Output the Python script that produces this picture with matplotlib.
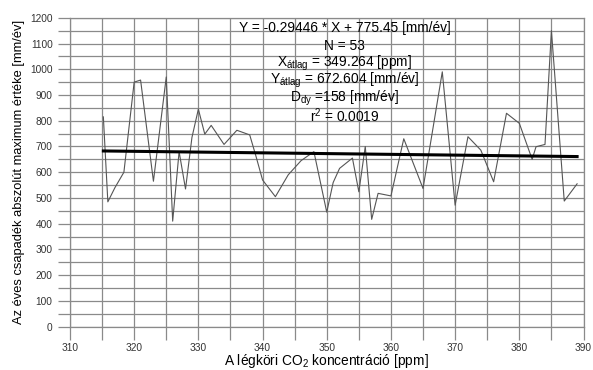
import numpy as np
import matplotlib.pyplot as plt

plt.rcParams['font.family'] = ['Liberation Sans', 'DejaVu Sans']
plt.rcParams['mathtext.fontset'] = 'custom'
plt.rcParams['mathtext.rm'] = 'Liberation Sans'
plt.rcParams['mathtext.it'] = 'Liberation Sans'

# CO2 concentration [ppm] and annual maximum precipitation [mm/ev]
co2 = [315.2, 315.9, 317.0, 318.4, 320.0, 321.0, 323.0, 325.0, 326.0, 327.0,
       328.0, 329.0, 330.0, 331.0, 332.0, 334.0, 336.0, 338.0, 339.0, 340.0,
       342.0, 344.0, 346.0, 348.0, 350.0, 351.0, 352.0, 354.0, 355.0, 356.0,
       357.0, 358.0, 360.0, 362.0, 365.0, 368.0, 370.0, 372.0, 374.0, 376.0,
       378.0, 380.0, 382.0, 382.6, 384.0, 385.0, 387.0, 389.0]
prec = [815, 485, 540, 600, 950, 958, 565, 970, 410, 680,
        535, 735, 845, 748, 782, 708, 763, 745, 660, 570,
        505, 590, 645, 680, 445, 560, 615, 655, 524, 700,
        417, 518, 508, 730, 537, 990, 472, 738, 686, 563,
        829, 790, 650, 699, 708, 1150, 488, 555]

slope = -0.29446
intercept = 775.45
fit_x = np.array([315.2, 389.0])

stats = ['Y = -0.29446 * X + 775.45 [mm/év]',
         'N = 53',
         r'X$_{\mathrm{átlag}}$ = 349.264 [ppm]',
         r'Y$_{\mathrm{átlag}}$ = 672.604 [mm/év]',
         r'D$_{\mathrm{dy}}$ =158 [mm/év]',
         r'r$^2$ = 0.0019']

fig = plt.figure(figsize=(5.93, 3.70), dpi=100)
ax = fig.add_axes([0.118, 0.117, 0.866, 0.835])

ax.set_xlim(310, 390)
ax.set_ylim(0, 1200)
ax.set_xticks(np.arange(310, 391, 10))
ax.set_xticks(np.arange(310, 391, 5), minor=True)
ax.set_yticks(np.arange(0, 1201, 100))
ax.set_yticks(np.arange(0, 1201, 50), minor=True)
ax.grid(True, which='both', color='#8a8a8a', lw=0.9)
ax.set_axisbelow(True)
for s in ax.spines.values():
    s.set_color('#8a8a8a')
    s.set_linewidth(0.9)
ax.tick_params(which='both', length=9, color='#8a8a8a', width=0.9,
               labelsize=7.3, labelcolor='#333333')
ax.tick_params(axis='x', which='both', pad=3)

ax.plot(co2, prec, color='#555555', lw=0.8)
ax.plot(fit_x, slope * fit_x + intercept, color='black', lw=2.2)

for i, s in enumerate(stats):
    ax.text(352.8, 1160 - i * 68, s, ha='center', va='center', fontsize=9.9)

ax.set_xlabel(r'A légköri CO$_2$ koncentráció [ppm]', fontsize=9.9, labelpad=-1)
ax.set_ylabel('Az éves csapadék abszolút maximum értéke [mm/év]', fontsize=9.3,
              labelpad=4)

fig.savefig('out.png', dpi=100)
